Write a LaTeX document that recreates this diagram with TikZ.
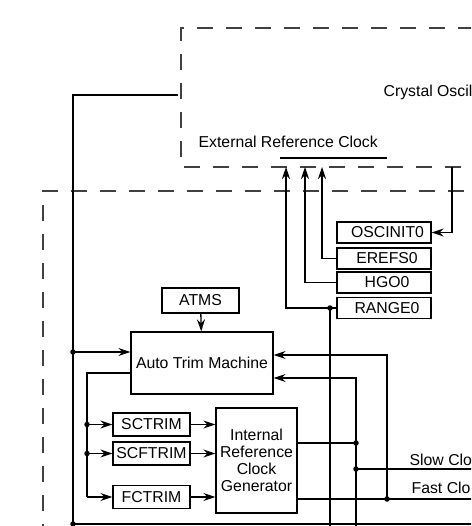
\documentclass[tikz,border=0pt]{standalone}
\usepackage{fontspec}
\setmainfont{Liberation Sans}
\usetikzlibrary{arrows.meta}
\begin{document}
\begin{tikzpicture}[x=1pt,y=-1pt,
  font=\fontsize{15.8}{17}\selectfont,
  line width=1.3pt,
  regbox/.style={draw, rectangle, inner sep=0pt, minimum width=94pt, minimum height=21pt},
  trimbox/.style={draw, rectangle, inner sep=0pt, minimum width=77pt, minimum height=23pt},
  dashbox/.style={dash pattern=on 16pt off 13pt, black!75, line width=1.2pt},
  arr/.style={-{Stealth[length=12pt,width=8pt,inset=4pt]}},
  dot/.style={circle, fill, inner sep=0pt, minimum size=5.5pt},
  plain/.style={inner sep=0pt, anchor=base west}]
\useasboundingbox (0,0) rectangle (471,526);
\clip (0,0) rectangle (471,526);

% dashed module outlines
\draw[dashbox] (490,167) -- (181,167) -- (181,28) -- (490,28);
\draw[dashbox] (43,540) -- (43,191) -- (490,191);

% texts
\node[plain] (xtal) at (383,97) {Crystal Oscil};
\node[plain] (erc) at (198,148) {External Reference Clock};
\node[plain] (slow) at (409,465) {Slow Clo};
\node[plain] (fast) at (411,493) {Fast Clo};

% register boxes
\node[regbox] (osc) at (384,232.5) {\hspace{7pt}OSCINIT0};
\node[regbox] (erefs) at (384,258.5) {\hspace{6pt}EREFS0};
\node[regbox] (hgo) at (384,282.5) {\hspace{6pt}HGO0};
\node[regbox] (range) at (384,308) {\hspace{6pt}RANGE0};

\node[draw, rectangle, inner sep=0pt, minimum width=77pt, minimum height=25pt] (atms) at (200.5,300.5) {ATMS};
\node[draw, rectangle, inner sep=0pt, minimum width=142pt, minimum height=62pt] (atm) at (202,363) {Auto Trim Machine};
\node[trimbox] (sctrim) at (151.5,424.5) {SCTRIM};
\node[trimbox] (scftrim) at (151.5,453.5) {SCFTRIM};
\node[trimbox] (fctrim) at (151.5,497) {FCTRIM};
\node[draw, rectangle, inner sep=0pt, minimum width=81pt, minimum height=105pt, align=center] (ircg) at (256.5,460.5) {Internal\\Reference\\Clock\\Generator};

% coordinates
\coordinate (tl) at (178,95);
\coordinate (ul) at (280,158);
\coordinate (ur) at (387,158);
\coordinate (tipA) at (286,167);
\coordinate (tipB) at (305,167);
\coordinate (tipC) at (322,167);
\coordinate (oscsrc) at (452,167);
\coordinate (bl) at (73,524);
\coordinate (br) at (480,524);
\coordinate (slowend) at (480,469);
\coordinate (fastend) at (480,499);
\coordinate (v330) at (330,540);
\coordinate (v356b) at (356,540);

% dots
\node[dot] (d1) at (73,352) {};
\node[dot] (d2) at (73,524) {};
\node[dot] (d3) at (87,424.5) {};
\node[dot] (d4) at (87,453.5) {};
\node[dot] (d5) at (330,308) {};
\node[dot] (d6) at (356,443) {};
\node[dot] (d7) at (356,469) {};
\node[dot] (d8) at (387,499) {};

% external reference underline
\draw (ul) -- (ur);

% left bus
\draw (tl) -- (73,95) -- (d2.center) -- (br);
\draw[arr] (d1.center) -- (atm.west |- d1);
\draw[arr] (atms) -- (atm);

% trim outputs
\draw (atm.west |- 0,373) -- (87,373) -- (87,497);
\draw[arr] (87,497) -- (fctrim.west);
\draw[arr] (d3.center) -- (sctrim.west);
\draw[arr] (d4.center) -- (scftrim.west);
\draw[arr] (sctrim.east) -- (ircg.west |- sctrim);
\draw[arr] (scftrim.east) -- (ircg.west |- scftrim);
\draw[arr] (fctrim.east) -- (ircg.west |- fctrim);

% clock outputs
\draw (ircg.east |- d6) -- (d6.center);
\draw (d7.center) -- (slowend);
\draw (ircg.east |- d8) -- (fastend);
\draw[arr] (v356b) -- (356,378) -- (atm.east |- 0,378);
\draw[arr] (d8.center) -- (387,355) -- (atm.east |- 0,355);

% register connections
\draw[arr] (range.west) -- (286,308) -- (tipA);
\draw[arr] (hgo.west) -- (305,282.5) -- (tipB);
\draw[arr] (erefs.west) -- (322,258.5) -- (tipC);
\draw (d5.center) -- (v330);
\draw[arr] (oscsrc) -- (452,232.5) -- (osc.east);
\end{tikzpicture}
\end{document}
